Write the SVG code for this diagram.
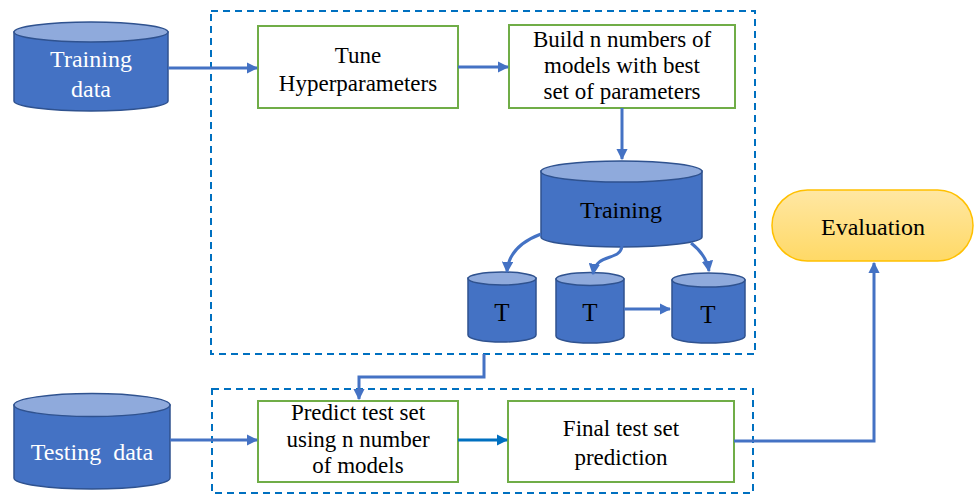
<svg xmlns="http://www.w3.org/2000/svg" width="974" height="495" viewBox="0 0 974 495">
  <defs>
    <marker id="arr" viewBox="0 0 10 10" refX="9" refY="5" markerWidth="3.8" markerHeight="3.8" orient="auto" markerUnits="strokeWidth">
      <path d="M0,0 L10,5 L0,10 z" fill="#4472C4"/>
    </marker>
    <marker id="arrDark" viewBox="0 0 10 10" refX="9" refY="5" markerWidth="3.8" markerHeight="3.8" orient="auto" markerUnits="strokeWidth">
      <path d="M0,0 L10,5 L0,10 z" fill="#0070C0"/>
    </marker>
    <linearGradient id="evalGrad" x1="0" y1="0" x2="0" y2="1">
      <stop offset="0" stop-color="#FFE7A3"/>
      <stop offset="1" stop-color="#FFD966"/>
    </linearGradient>
  </defs>
  <style>
    .body { fill: #4472C4; stroke: #2F528F; stroke-width: 1.5; }
    .top { fill: #8FAADC; stroke: #2F528F; stroke-width: 1.5; }
    .box { fill: #FFFFFF; stroke: #70AD47; stroke-width: 2; }
    .dash { fill: none; stroke: #0070C0; stroke-width: 2; stroke-dasharray: 7 5; }
    .conn { fill: none; stroke: #4472C4; stroke-width: 3; marker-end: url(#arr); }
    .w { fill: #FFFFFF; }
    .k { fill: #000000; }
  </style>

  <g font-family="Liberation Serif, serif" text-anchor="middle">
  <!-- dashed group frames -->
  <rect class="dash" x="211" y="11" width="544" height="343"/>
  <rect class="dash" x="212" y="389" width="541" height="104"/>

  <g id="training-data">
    <path class="body" d="M14,32 L14,101 A77,10 0 0 0 168,101 L168,32 Z"/>
    <ellipse class="top" cx="91" cy="32" rx="77" ry="10"/>
    <text class="w" x="91" y="67" font-size="24">Training</text>
    <text class="w" x="91" y="97" font-size="24">data</text>
  </g>

  <g id="tune">
    <rect class="box" x="258" y="26" width="200" height="82"/>
    <text class="k" x="358" y="63" font-size="23">Tune</text>
    <text class="k" x="358" y="91" font-size="23">Hyperparameters</text>
  </g>

  <g id="build">
    <rect class="box" x="509" y="25" width="226" height="83"/>
    <text class="k" x="622" y="47" font-size="23">Build n numbers of</text>
    <text class="k" x="622" y="73" font-size="23">models with best</text>
    <text class="k" x="622" y="99" font-size="23">set of parameters</text>
  </g>

  <g id="training">
    <path class="body" d="M541,171 L541,237 A80.5,10 0 0 0 702,237 L702,171 Z"/>
    <ellipse class="top" cx="621.5" cy="171.5" rx="80.5" ry="10.5"/>
    <text class="k" x="621" y="218" font-size="24">Training</text>
  </g>

  <g id="t1">
    <path class="body" d="M468,278 L468,335 A34,7 0 0 0 536,335 L536,278 Z"/>
    <ellipse class="top" cx="502" cy="278.5" rx="34" ry="6.5"/>
    <text class="k" x="502" y="321" font-size="25">T</text>
  </g>

  <g id="t2">
    <path class="body" d="M556,279 L556,336 A34,7 0 0 0 624,336 L624,279 Z"/>
    <ellipse class="top" cx="590" cy="279" rx="34" ry="6.5"/>
    <text class="k" x="590" y="321" font-size="25">T</text>
  </g>

  <g id="t3">
    <path class="body" d="M672,280 L672,336 A36.5,7 0 0 0 745,336 L745,280 Z"/>
    <ellipse class="top" cx="708.5" cy="280" rx="36.5" ry="7"/>
    <text class="k" x="708" y="323" font-size="25">T</text>
  </g>

  <g id="testing-data">
    <path class="body" d="M14,405 L14,478 A78,11 0 0 0 170,478 L170,405 Z"/>
    <ellipse class="top" cx="92" cy="405" rx="78" ry="11.5"/>
    <text class="w" x="92" y="460" font-size="24" xml:space="preserve">Testing  data</text>
  </g>

  <g id="predict">
    <rect class="box" x="258" y="401" width="200" height="81"/>
    <text class="k" x="358" y="420" font-size="23">Predict test set</text>
    <text class="k" x="358" y="447" font-size="23">using n number</text>
    <text class="k" x="358" y="473" font-size="23">of models</text>
  </g>

  <g id="final">
    <rect class="box" x="508" y="401" width="226" height="81"/>
    <text class="k" x="621" y="436" font-size="23">Final test set</text>
    <text class="k" x="621" y="465" font-size="23">prediction</text>
  </g>

  <g id="evaluation">
    <rect x="772" y="190" width="201" height="71" rx="35.5" ry="35.5" fill="url(#evalGrad)" stroke="#FFC000" stroke-width="1.5"/>
    <text class="k" x="873" y="235" font-size="24">Evaluation</text>
  </g>

  <g id="connectors">
    <path class="conn" d="M168,68 L257,68"/>
    <path class="conn" d="M458,67 L508,67"/>
    <path class="conn" d="M622,108 L622,159"/>
    <path class="conn" d="M541,234 C520,242 508,254 507,272"/>
    <path class="conn" d="M622,246 C620,262 596,252 593,274"/>
    <path class="conn" d="M691,243 C700,250 707,258 709,271"/>
    <path class="conn" d="M624,309 L670,309"/>
    <path class="conn" d="M484,354 L484,377 L359,377 L359,399"/>
    <path class="conn" d="M170,440 L257,440"/>
    <path d="M458,440 L507,440" fill="none" stroke="#0070C0" stroke-width="3" marker-end="url(#arrDark)"/>
    <path class="conn" d="M734,441 L874,441 L874,263"/>
  </g>
  </g>
</svg>
